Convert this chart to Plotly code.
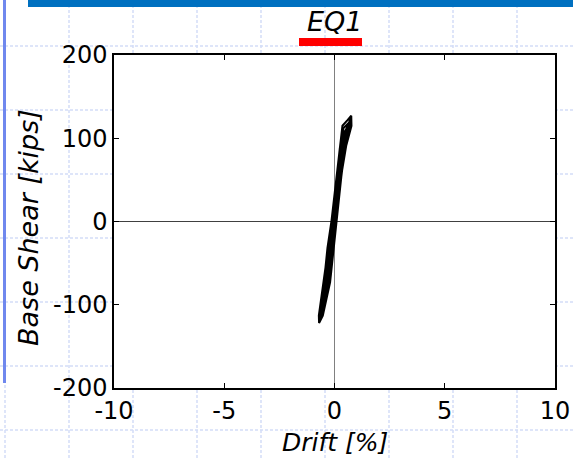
import plotly.graph_objects as go

# ---- data ----
drift = [0.00, 0.20, 0.12, 0.04, -0.10, -0.25, -0.18, -0.08, 0.10, 0.20, 0.35, 0.25, 0.06,
         -0.04, -0.18, -0.42, -0.30, -0.12, 0.10, 0.24, 0.55, 0.50, 0.30, 0.09, -0.06, -0.22,
         -0.48, -0.60, -0.48, -0.32, -0.14, 0.12, 0.26, 0.36, 0.60, 0.76, 0.77, 0.53, 0.33,
         0.10, -0.05, -0.20, -0.53, -0.70, -0.71, -0.50, -0.30, -0.12, 0.13, 0.28, 0.40, 0.70,
         0.66, 0.50, 0.30, 0.08, -0.08, -0.24, -0.52, -0.66, -0.62, -0.45, -0.28, -0.10, 0.15,
         0.30, 0.46, 0.62, 0.52, 0.38, 0.20, 0.05, -0.10, -0.30, -0.58, -0.52, -0.40, -0.24,
         -0.08, 0.14, 0.30, 0.50, 0.42, 0.28, 0.07, -0.12, -0.30, -0.48, -0.38, -0.22, -0.06,
         0.16, 0.40, 0.30, 0.16, 0.03, -0.16, -0.38, -0.26, -0.10, 0.08, 0.28, 0.18, 0.02,
         -0.10, -0.25, -0.12, 0.00, 0.15, 0.06, -0.04, -0.10, -0.02,
         0.05, 0.22, 0.45, 0.72, 0.58, 0.40, 0.18, 0.00, -0.20, -0.42, -0.64, -0.55, -0.38,
         -0.20, 0.00, 0.20, 0.42, 0.66, 0.45, 0.25, 0.05, -0.12, -0.34, -0.55, -0.44, -0.26,
         -0.10, 0.02]
shear = [0, 40, 20, 0, -25, -40, -22, 0, 45, 62, 70, 50, 0,
         -28, -68, -75, -35, 0, 56, 88, 100, 90, 58, 0, -32, -75,
         -105, -105, -74, -32, 0, 59, 91, 115, 122, 127, 115, 91, 59,
         0, -32, -73, -113, -122, -113, -73, -32, 0, 59, 91, 112, 120,
         108, 90, 56, 0, -32, -73, -110, -115, -100, -70, -32, 0, 58,
         90, 108, 115, 98, 70, 30, 0, -32, -78, -108, -92, -66, -30,
         0, 52, 86, 98, 85, 55, 0, -36, -70, -90, -68, -30, 0,
         50, 85, 66, 34, 0, -40, -72, -45, -8, 30, 60, 38, 0,
         -20, -45, -20, 5, 30, 10, -5, -15, 0,
         10, 62, 100, 124, 104, 75, 30, 0, -50, -88, -118, -100, -62,
         -22, 15, 60, 104, 119, 96, 66, 14, -20, -66, -102, -82, -40,
         -6, 0]

x_ticks = [-10, -5, 0, 5, 10]
x_ticktext = ["-10", "-5", "0", "5", "10"]
y_ticks = [-200, -100, 0, 100, 200]
y_ticktext = ["-200", "-100", "0", "100", "200"]

title_text = "EQ1"
x_title = "Drift [%]"
y_title = "Base Shear [kips]"

# ---- layout geometry (pixels) ----
W, H = 573, 460
L, R, T, B = 114, 18, 55, 72
PW, PH = W - L - R, H - T - B

def px(xp):
    return (xp - L) / PW

def py(yp):
    return (H - B - yp) / PH

FONT = "DejaVu Sans, sans-serif"

fig = go.Figure()
fig.add_trace(go.Scatter(x=drift, y=shear, mode="lines",
                         line=dict(color="black", width=2), hoverinfo="skip",
                         showlegend=False))

shapes = []
grid_col = "#d3ddf8"
for xv in [5, 69, 133, 197, 261, 325, 389, 453, 517]:
    shapes.append(dict(type="line", xref="paper", yref="paper", x0=px(xv), x1=px(xv),
                       y0=py(0), y1=py(H), line=dict(color=grid_col, width=1.5, dash="3px,2px"),
                       layer="below"))
for yv in [46, 110, 174, 238, 302, 366, 430]:
    shapes.append(dict(type="line", xref="paper", yref="paper", x0=px(0), x1=px(W),
                       y0=py(yv), y1=py(yv), line=dict(color=grid_col, width=1.5, dash="3px,2px"),
                       layer="below"))
# white plot area over the decoration grid
shapes.append(dict(type="rect", xref="paper", yref="paper", x0=0, x1=1, y0=0, y1=1,
                   fillcolor="white", line=dict(width=0), layer="below"))
# slide decorations
shapes.append(dict(type="rect", xref="paper", yref="paper", x0=px(28), x1=px(W + 5),
                   y0=py(-5), y1=py(7), fillcolor="#0070c0", line=dict(width=0)))
shapes.append(dict(type="line", xref="paper", yref="paper", x0=px(4.5), x1=px(4.5),
                   y0=py(-5), y1=py(383), line=dict(color="#7088ee", width=3)))
# red underline of the title
shapes.append(dict(type="rect", xref="paper", yref="paper", x0=px(299), x1=px(362),
                   y0=py(46), y1=py(38), fillcolor="#ff0000", line=dict(width=0)))

annotations = [
    dict(text="<i>%s</i>" % title_text, xref="paper", yref="paper", x=px(334.5), y=py(22),
         xanchor="center", yanchor="middle", showarrow=False,
         font=dict(family=FONT, size=27, color="black")),
    dict(text="<i>%s</i>" % x_title, xref="paper", yref="paper", x=px(335), y=py(442),
         xanchor="center", yanchor="middle", showarrow=False,
         font=dict(family=FONT, size=25, color="black")),
    dict(text="<i>%s</i>" % y_title, xref="paper", yref="paper", x=px(29), y=py(228),
         xanchor="center", yanchor="middle", showarrow=False, textangle=-90,
         font=dict(family=FONT, size=27, color="black")),
]

axis_common = dict(showgrid=False, showline=True, linecolor="black", linewidth=1.5,
                   mirror="ticks", ticks="inside", ticklen=5, tickwidth=1, tickcolor="black",
                   tickfont=dict(family=FONT, size=24, color="black"), zeroline=True,
                   zerolinewidth=1, automargin=False)

fig.update_layout(
    width=W, height=H, margin=dict(l=L, r=R, t=T, b=B, pad=0),
    paper_bgcolor="white", plot_bgcolor="white",
    shapes=shapes, annotations=annotations,
    xaxis=dict(range=[-10, 10], tickvals=x_ticks, ticktext=x_ticktext,
               zerolinecolor="#808080", **axis_common),
    yaxis=dict(range=[-200, 200], tickvals=y_ticks, ticktext=y_ticktext,
               zerolinecolor="#404040", **axis_common),
)

fig.write_html("out.html")
